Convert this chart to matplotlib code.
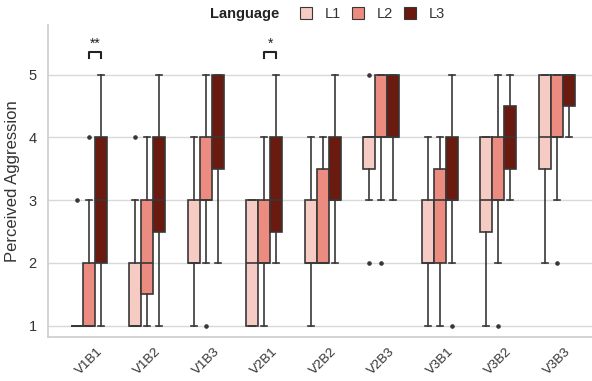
import matplotlib
matplotlib.use("Agg")
import matplotlib.pyplot as plt
from matplotlib.patches import Patch

plt.rcParams["font.family"] = ["Liberation Sans", "DejaVu Sans"]

conditions = ["V1B1", "V1B2", "V1B3", "V2B1", "V2B2", "V2B3", "V3B1", "V3B2", "V3B3"]
languages = ["L1", "L2", "L3"]
colors = ["#f5cbc4", "#ec8b7f", "#6b1a10"]

# box summaries per language, one value per condition
q1 = {
    "L1": [1, 1, 2, 1, 2, 3.5, 2, 2.5, 3.5],
    "L2": [1, 1.5, 3, 2, 2, 4, 2, 3, 4],
    "L3": [2, 2.5, 3.5, 2.5, 3, 4, 3, 3.5, 4.5],
}
med = {
    "L1": [1, 1, 2, 2, 2, 4, 2, 3, 4],
    "L2": [1, 2, 3, 2, 2, 4, 3, 3, 4],
    "L3": [3, 3, 4, 3, 3, 4, 3, 4, 5],
}
q3 = {
    "L1": [1, 2, 3, 3, 3, 4, 3, 4, 5],
    "L2": [2, 3, 4, 3, 3.5, 5, 3.5, 4, 5],
    "L3": [4, 4, 5, 4, 4, 5, 4, 4.5, 5],
}
whislo = {
    "L1": [1, 1, 1, 1, 1, 3, 1, 1, 2],
    "L2": [1, 1, 2, 1, 2, 3, 1, 2, 3],
    "L3": [1, 1, 2, 2, 2, 3, 2, 3, 4],
}
whishi = {
    "L1": [1, 3, 4, 3, 4, 4, 4, 4, 5],
    "L2": [3, 4, 5, 4, 4, 5, 4, 5, 5],
    "L3": [5, 5, 5, 5, 5, 5, 5, 5, 5],
}
fliers = {
    "L1": [[3], [4], [], [], [], [5, 2], [], [], []],
    "L2": [[4], [], [1], [], [], [2], [], [1], [2]],
    "L3": [[], [], [], [], [], [], [1], [], []],
}

# significance brackets: (condition index, left hue, right hue, label)
sig_pairs = [(0, 1, 2, "**"), (3, 1, 2, "*")]

fig = plt.figure(figsize=(5.92, 3.81), dpi=100)
ax = fig.add_axes([0.081, 0.1155, 0.919, 0.8185])

box_w = 0.205
offsets = [-box_w, 0, box_w]
line_c = "#383838"

for h, lang in enumerate(languages):
    stats = []
    for i in range(len(conditions)):
        stats.append({
            "q1": q1[lang][i], "med": med[lang][i], "q3": q3[lang][i],
            "whislo": whislo[lang][i], "whishi": whishi[lang][i],
            "fliers": fliers[lang][i],
        })
    pos = [i + offsets[h] for i in range(len(conditions))]
    ax.bxp(stats, positions=pos, widths=box_w, patch_artist=True,
           manage_ticks=False,
           boxprops=dict(facecolor=colors[h], edgecolor=line_c, linewidth=1.2),
           medianprops=dict(color=line_c, linewidth=1.2),
           whiskerprops=dict(color=line_c, linewidth=1.2),
           capprops=dict(color=line_c, linewidth=1.2),
           flierprops=dict(marker="o", markersize=2.3, markerfacecolor=line_c,
                           markeredgecolor=line_c))

for ci, a, b, label in sig_pairs:
    x1, x2 = ci + offsets[a], ci + offsets[b]
    ax.plot([x1, x1, x2, x2], [5.27, 5.355, 5.355, 5.27], color="#222222", lw=1.5,
            clip_on=False)
    ax.text((x1 + x2) / 2, 5.5, label, ha="center", va="center", fontsize=10,
            color="#222222")

ax.set_xlim(-0.7, 8.6)
ax.set_ylim(0.82, 5.79)
ax.set_yticks([1, 2, 3, 4, 5])
ax.set_xticks(range(len(conditions)))
ax.set_xticklabels(conditions, rotation=45, ha="center", fontsize=9.5, color="#333333")
ax.tick_params(axis="y", labelsize=10.5, labelcolor="#333333", length=0, pad=8)
ax.tick_params(axis="x", length=0, pad=6)
ax.set_ylabel("Perceived Aggression", fontsize=12, color="#333333", labelpad=6)

ax.yaxis.grid(True, color="#d9d9d9", linewidth=1.0)
ax.set_axisbelow(True)
for side in ["top", "right"]:
    ax.spines[side].set_visible(False)
for side in ["left", "bottom"]:
    ax.spines[side].set_color("#cccccc")
    ax.spines[side].set_linewidth(1.2)

handles = [Patch(facecolor=c, edgecolor=line_c, linewidth=0.8) for c in colors]
fig.text(0.472, 0.963, "Language", fontsize=10.5, fontweight="bold",
         ha="right", va="center", color="#222222")
fig.legend(handles, languages, loc="center left", bbox_to_anchor=(0.495, 0.963),
           ncol=3, frameon=False, fontsize=10.5, handlelength=0.8,
           handleheight=0.8, columnspacing=0.75, handletextpad=0.9,
           borderpad=0, labelcolor="#333333")

fig.savefig("out.png", dpi=100)
